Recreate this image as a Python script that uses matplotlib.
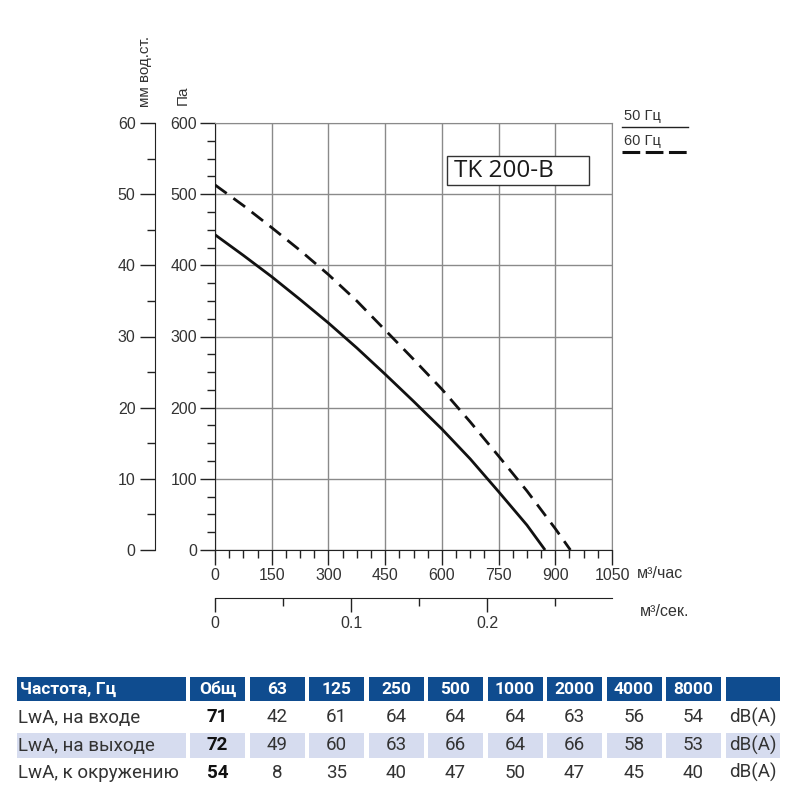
import matplotlib
matplotlib.use("Agg")
import matplotlib.pyplot as plt
from matplotlib.patches import Rectangle
from matplotlib.lines import Line2D
from matplotlib.ticker import MultipleLocator, FixedLocator, NullFormatter

plt.rcParams['font.family'] = ['Liberation Sans', 'DejaVu Sans']

# fan curve TK 200-B
flow = [0, 75, 150, 225, 300, 375, 450, 525, 600, 675, 750, 825]
p50 = [443, 414, 384, 352, 319, 284, 247, 209, 170, 128, 82, 35]
flow50_end = 873
flow60 = [0, 75, 150, 225, 300, 375, 450, 525, 600, 675, 750, 825, 900]
p60 = [513, 484, 453, 421, 387, 350, 309, 268, 226, 180, 132, 83, 30]
flow60_end = 940

# sound data
bands = ['63', '125', '250', '500', '1000', '2000', '4000', '8000']
row_names = ['LwA, на входе', 'LwA, на выходе', 'LwA, к окружению']
totals = [71, 72, 54]
lw_inlet = [42, 61, 64, 64, 64, 63, 56, 54]
lw_outlet = [49, 60, 63, 66, 64, 66, 58, 53]
lw_surround = [8, 35, 40, 47, 50, 47, 45, 40]

TXT = '#333333'
GRID = '#8a8a8a'
BLUE = '#0f4c8f'
SHADE = '#d6dcef'

fig = plt.figure(figsize=(8, 8), dpi=100)

# main chart, placed in pixels of the 800x800 sheet
ax = fig.add_axes([215 / 800, 250 / 800, 397 / 800, 427 / 800])
ax.set_xlim(0, 1050)
ax.set_ylim(0, 600)
ax.xaxis.set_major_locator(MultipleLocator(150))
ax.xaxis.set_minor_locator(MultipleLocator(37.5))
ax.yaxis.set_major_locator(MultipleLocator(100))
ax.yaxis.set_minor_locator(MultipleLocator(25))
ax.grid(which='major', color=GRID, lw=1)
ax.tick_params(which='major', direction='out', length=10.5, width=1,
               color='#222', labelsize=11.5, labelcolor=TXT, pad=2.5)
ax.tick_params(axis='x', which='minor', direction='out', length=6, width=1, color='#222')
ax.tick_params(axis='y', which='minor', direction='out', length=5.5, width=1, color='#222')
for s in ['left', 'bottom']:
    ax.spines[s].set_color('#222')
for s in ['top', 'right']:
    ax.spines[s].set_color(GRID)

ax.plot(flow + [flow50_end], p50 + [0], color='#111', lw=2, solid_capstyle='butt',
        solid_joinstyle='round', zorder=4)
ax.plot(flow60 + [flow60_end], p60 + [0], color='#111', lw=2,
        ls=(0, (5.2, 3)), dash_capstyle='butt', zorder=4)

# model name box
ax.add_patch(Rectangle((0.584, 0.855), 0.358, 0.068, transform=ax.transAxes,
                       facecolor='white', edgecolor='#333', lw=1, zorder=3))
ax.text(0.603, 0.887, 'TK 200-B', transform=ax.transAxes, fontsize=17.5,
        family='Open Sans', color='#1a1a1a', va='center', ha='left', zorder=5)

# left axis in mm water column
mm = ax.secondary_yaxis(-60 / 397, functions=(lambda p: p / 10, lambda m: m * 10))
mm.yaxis.set_major_locator(MultipleLocator(10))
mm.yaxis.set_minor_locator(MultipleLocator(5))
mm.tick_params(which='major', length=11, width=1, color='#222', labelsize=11.5,
               labelcolor=TXT, pad=3)
mm.tick_params(which='minor', length=5.5, width=1, color='#222')
mm.spines['left'].set_color('#222')

# bottom axis in m3/s
ms = ax.secondary_xaxis(-48 / 427, functions=(lambda q: q / 3600, lambda s: s * 3600))
ms.xaxis.set_major_locator(FixedLocator([0, 0.1, 0.2]))
ms.xaxis.set_minor_locator(FixedLocator([0.05, 0.15, 0.25]))
ms.set_xticklabels(['0', '0.1', '0.2'])
ms.xaxis.set_minor_formatter(NullFormatter())
ms.tick_params(which='major', length=10, width=1, color='#222', labelsize=11.5,
               labelcolor=TXT, pad=3)
ms.tick_params(which='minor', length=5.5, width=1, color='#222')
ms.spines['bottom'].set_color('#222')

# unit labels
fig.text(145 / 800, 1 - 107 / 800, 'мм вод.ст.', rotation=90, ha='center', va='bottom',
         fontsize=11, color=TXT)
fig.text(183 / 800, 1 - 105 / 800, 'Па', rotation=90, ha='center', va='bottom',
         fontsize=11, color=TXT)
fig.text(637 / 800, 1 - 574 / 800, 'м³/час', ha='left', va='center', fontsize=11.5, color=TXT)
fig.text(640 / 800, 1 - 612 / 800, 'м³/сек.', ha='left', va='center', fontsize=11.5, color=TXT)

# legend at top right
fig.text(624 / 800, 1 - 116 / 800, '50 Гц', ha='left', va='center', fontsize=10.5, color=TXT)
fig.add_artist(Line2D([622 / 800, 688 / 800], [1 - 127 / 800] * 2, transform=fig.transFigure,
                      color='#222', lw=1))
fig.text(624 / 800, 1 - 141 / 800, '60 Гц', ha='left', va='center', fontsize=10.5, color=TXT)
fig.add_artist(Line2D([622 / 800, 688 / 800], [1 - 152 / 800] * 2, transform=fig.transFigure,
                      color='#111', lw=2.2, ls=(0, (5.8, 1.8)), dash_capstyle='butt'))

# sound table drawn in pixel coordinates
tab = fig.add_axes([0, 0, 1, 1])
tab.set_xlim(0, 800)
tab.set_ylim(800, 0)
tab.axis('off')
tab.patch.set_alpha(0)

tfont = ['Roboto', 'DejaVu Sans']
fs = 13.5
col_x = [190 + 59.5 * i for i in range(10)]
col_w = 55
head_y, head_h = 677, 24
row_y = [705, 733, 760]
row_h = 25

tab.add_patch(Rectangle((17, head_y), 169, head_h, color=BLUE, lw=0))
tab.text(20, head_y + head_h / 2, 'Частота, Гц', color='white', fontweight='bold',
         family=tfont, fontsize=12.5, va='center', ha='left')
head_labels = ['Общ'] + bands + ['']
for i, lab in enumerate(head_labels):
    w = 54 if i == len(head_labels) - 1 else col_w
    tab.add_patch(Rectangle((col_x[i], head_y), w, head_h, color=BLUE, lw=0))
    tab.text(col_x[i] + w / 2, head_y + head_h / 2, lab, color='white', fontweight='bold',
             family=tfont, fontsize=12.5, va='center', ha='center')

rows = [lw_inlet, lw_outlet, lw_surround]
for r, vals in enumerate(rows):
    y = row_y[r]
    if r == 1:
        tab.add_patch(Rectangle((17, y), 169, row_h, color=SHADE, lw=0))
        for i in range(10):
            w = 54 if i == 9 else col_w
            tab.add_patch(Rectangle((col_x[i], y), w, row_h, color=SHADE, lw=0))
    tab.text(18, y + row_h / 2, row_names[r], color=TXT, family=tfont, fontsize=fs,
             va='center', ha='left')
    tab.text(col_x[0] + col_w / 2, y + row_h / 2, str(totals[r]), color='#111',
             fontweight='bold', family=tfont, fontsize=fs, va='center', ha='center')
    for i, v in enumerate(vals):
        tab.text(col_x[i + 1] + col_w / 2, y + row_h / 2, str(v), color=TXT, family=tfont,
                 fontsize=fs, va='center', ha='center')
    tab.text(col_x[9] + 27, y + row_h / 2, 'dB(A)', color=TXT, family=tfont, fontsize=fs,
             va='center', ha='center')

fig.savefig('out.png', dpi=100)
